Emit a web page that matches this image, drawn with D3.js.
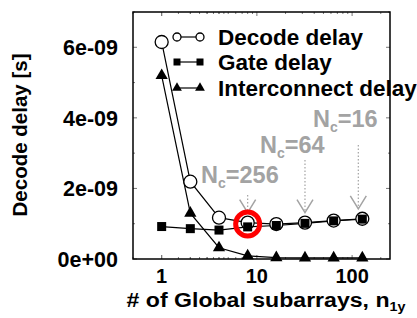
<!DOCTYPE html>
<html>
<head>
<meta charset="utf-8">
<script src="https://cdn.jsdelivr.net/npm/d3@7"></script>
<style>
  body { margin: 0; background: #fff; }
  text { font-family: "Liberation Sans", Arial, Helvetica, sans-serif; font-weight: bold; }
</style>
</head>
<body>
<svg id="chart" width="417" height="318"></svg>
<script>
// values
const subarrays = [1, 2, 4, 8, 16, 32, 64, 128];
const decodeDelay = [6.15e-9, 2.19e-9, 1.17e-9, 1.03e-9, 0.99e-9, 1.03e-9, 1.09e-9, 1.14e-9];
const gateDelay = [0.92e-9, 0.86e-9, 0.82e-9, 0.91e-9, 0.95e-9, 1.01e-9, 1.08e-9, 1.13e-9];
const interconnectDelay = [5.2e-9, 1.3e-9, 0.32e-9, 0.09e-9, 0.04e-9, 0.03e-9, 0.03e-9, 0.03e-9];
const yTicks = [0, 2e-9, 4e-9, 6e-9];
const yTickLabels = ["0e+00", "2e-09", "4e-09", "6e-09"];
const xTicks = [1, 10, 100];
const seriesNames = ["Decode delay", "Gate delay", "Interconnect delay"];
const ncLabels = ["256", "64", "16"];
const ncAt = [8, 32, 128];

const svg = d3.select('#chart');
const pLeft = 133, pRight = 390, pTop = 12, pBottom = 259;

const x = d3.scaleLog().domain([0.5, 250]).range([pLeft, pRight]);
const y = d3.scaleLinear().domain([0, 7e-9]).range([pBottom, pTop]);

// inward ticks on all sides
const minorY = d3.range(0, 7.01e-9, 1e-9);
const minorX = [];
[0.5, 1, 10, 100].forEach(d => [1,2,3,4,5,6,7,8,9].forEach(k => {
  const v = d * k; if (v >= 0.5 && v <= 250) minorX.push(v);
}));
minorY.forEach(v => {
  const len = yTicks.some(t => Math.abs(t - v) < 1e-12) ? 4 : 2;
  svg.append('line').attr('x1', pLeft).attr('x2', pLeft + len).attr('y1', y(v)).attr('y2', y(v)).attr('stroke', '#777');
  svg.append('line').attr('x1', pRight).attr('x2', pRight - len).attr('y1', y(v)).attr('y2', y(v)).attr('stroke', '#777');
});
minorX.forEach(v => {
  const len = xTicks.includes(v) ? 4 : 2;
  svg.append('line').attr('x1', x(v)).attr('x2', x(v)).attr('y1', pTop).attr('y2', pTop + len).attr('stroke', '#777');
  svg.append('line').attr('x1', x(v)).attr('x2', x(v)).attr('y1', pBottom).attr('y2', pBottom - len).attr('stroke', '#777');
});

svg.append('rect').attr('x', pLeft).attr('y', pTop)
  .attr('width', pRight - pLeft).attr('height', pBottom - pTop)
  .attr('fill', 'none').attr('stroke', '#000').attr('stroke-width', 1.5);

// tick labels
svg.selectAll('.ylab').data(yTicks).enter().append('text')
  .attr('x', 118).attr('y', d => y(d)).attr('dy', '0.36em')
  .attr('text-anchor', 'end').attr('font-size', 21.5)
  .text((d, i) => yTickLabels[i]);
svg.selectAll('.xlab').data(xTicks).enter().append('text')
  .attr('x', d => x(d)).attr('y', 283)
  .attr('text-anchor', 'middle').attr('font-size', 20)
  .text(d => d);

// axis titles
svg.append('text').attr('transform', 'translate(27,135) rotate(-90)')
  .attr('text-anchor', 'middle').attr('font-size', 20.5).text('Decode delay [s]');
const xt = svg.append('text').attr('transform', 'translate(266,307) scale(1.1,1)')
  .attr('text-anchor', 'middle').attr('font-size', 21);
xt.append('tspan').text('# of Global subarrays, n');
xt.append('tspan').attr('font-size', 13).attr('dy', 4).text('1y');

// annotations
const grey = '#a3a3a3';
const ncPos = [[201, 183], [260, 153], [313, 127]];
ncLabels.forEach((lab, i) => {
  const t = svg.append('text').attr('x', ncPos[i][0]).attr('y', ncPos[i][1])
    .attr('fill', grey).attr('font-size', 23.5);
  t.append('tspan').text('N');
  t.append('tspan').attr('font-size', 14).attr('dy', 5).text('c');
  t.append('tspan').attr('dy', -5).text('=' + lab);
});
const arrowTop = [195, 160, 145];
ncAt.forEach((v, i) => {
  const ax = x(v) - (i === 2 ? 4 : 0);
  const tip = y(decodeDelay[subarrays.indexOf(v)]) - 10;
  svg.append('line').attr('x1', ax).attr('x2', ax).attr('y1', arrowTop[i]).attr('y2', tip)
    .attr('stroke', grey).attr('stroke-width', 1.2).attr('stroke-dasharray', '1.5,2');
  svg.append('path').attr('d', `M${ax - 8},${tip - 13}L${ax},${tip}L${ax + 8},${tip - 13}`)
    .attr('fill', 'none').attr('stroke', grey).attr('stroke-width', 1.5);
});

// lines
const line = vals => d3.line().x((d, i) => x(subarrays[i])).y(d => y(d))(vals);
[decodeDelay, gateDelay, interconnectDelay].forEach(vals => {
  svg.append('path').attr('d', line(vals)).attr('fill', 'none')
    .attr('stroke', '#000').attr('stroke-width', 1.2);
});

const tri = d3.symbol().type(d3.symbolTriangle);
function marker(g, kind, cx, cy, s) {
  if (kind === 0) {
    g.append('circle').attr('cx', cx).attr('cy', cy).attr('r', s)
      .attr('fill', '#fff').attr('stroke', '#000').attr('stroke-width', 1.3);
  } else if (kind === 1) {
    g.append('rect').attr('x', cx - s).attr('y', cy - s).attr('width', 2 * s).attr('height', 2 * s)
      .attr('fill', '#000');
  } else {
    g.append('path').attr('d', tri.size(s * s * 2.6)()).attr('transform', `translate(${cx},${cy})`)
      .attr('fill', '#000');
  }
}
const marks = svg.append('g');
decodeDelay.forEach((v, i) => marker(marks, 0, x(subarrays[i]), y(v), 6.5));
gateDelay.forEach((v, i) => marker(marks, 1, x(subarrays[i]), y(v), 4.5));
interconnectDelay.forEach((v, i) => marker(marks, 2, x(subarrays[i]), y(v), 5));

// red highlight
svg.append('circle').attr('cx', x(8)).attr('cy', 224).attr('r', 12)
  .attr('fill', 'none').attr('stroke', '#f00').attr('stroke-width', 5);

// legend
const legY = [37, 62, 88];
const legSize = [4, 3.5, 4];
seriesNames.forEach((name, i) => {
  svg.append('line').attr('x1', 177).attr('x2', 200).attr('y1', legY[i]).attr('y2', legY[i])
    .attr('stroke', '#000').attr('stroke-width', 1.2);
  marker(svg, i, 177, legY[i], legSize[i]);
  marker(svg, i, 200, legY[i], legSize[i]);
  svg.append('text').attr('x', 218).attr('y', legY[i] + 8).attr('font-size', 22.5).text(name);
});
</script>
</body>
</html>
